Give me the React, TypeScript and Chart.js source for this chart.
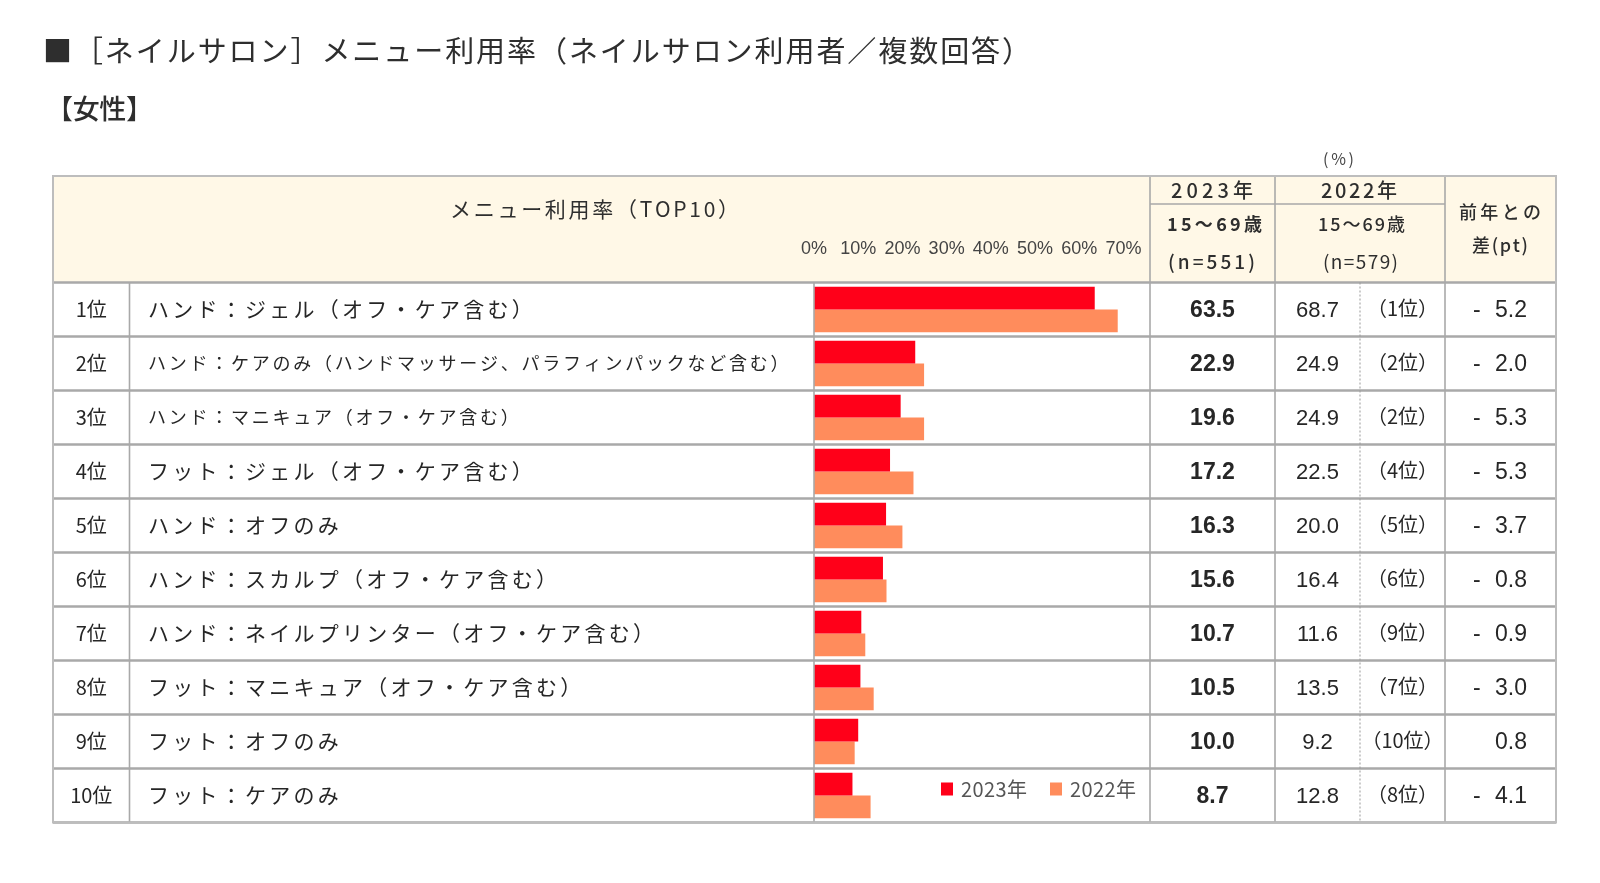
import { useEffect, useRef } from "react";
import { Chart, registerables } from "chart.js";

Chart.register(...registerables);

// ---------- data ----------
const titleText = "■［ネイルサロン］メニュー利用率（ネイルサロン利用者／複数回答）";
const subTitleText = "【女性】";
const headerMenu = "メニュー利用率（TOP10）";
const unitText = "(%)";
const seriesNames = ["2023年", "2022年"];
const ageLabels = ["15～69歳", "15～69歳"];
const sampleLabels = ["(n=551)", "(n=579)"];
const diffHeader = ["前年との", "差(pt)"];

const rankLabels = ["1位", "2位", "3位", "4位", "5位", "6位", "7位", "8位", "9位", "10位"];
const categories = [
  "ハンド：ジェル（オフ・ケア含む）",
  "ハンド：ケアのみ（ハンドマッサージ、パラフィンパックなど含む）",
  "ハンド：マニキュア（オフ・ケア含む）",
  "フット：ジェル（オフ・ケア含む）",
  "ハンド：オフのみ",
  "ハンド：スカルプ（オフ・ケア含む）",
  "ハンド：ネイルプリンター（オフ・ケア含む）",
  "フット：マニキュア（オフ・ケア含む）",
  "フット：オフのみ",
  "フット：ケアのみ",
];
const values2023 = [63.5, 22.9, 19.6, 17.2, 16.3, 15.6, 10.7, 10.5, 10.0, 8.7];
const values2022 = [68.7, 24.9, 24.9, 22.5, 20.0, 16.4, 11.6, 13.5, 9.2, 12.8];
const ranks2022 = ["（1位）", "（2位）", "（2位）", "（4位）", "（5位）", "（6位）", "（9位）", "（7位）", "（10位）", "（8位）"];
const diffs = [-5.2, -2.0, -5.3, -5.3, -3.7, -0.8, -0.9, -3.0, 0.8, -4.1];
const tickMaxLabel = 70;

// ---------- styles ----------
const RED = "#FF0019";
const ORANGE = "#FF8C5C";
const HEADER_BG = "#FFF8E7";
const LINE = "#A9A9A9";
const TEXT = "#262626";
const JP = '"Noto Sans CJK JP", "Noto Sans", sans-serif';
const LAT = '"Liberation Sans", Arial, sans-serif';
const smallRows = new Set([1, 2]);

type Align = "left" | "center" | "right";

function spaced(ctx: CanvasRenderingContext2D, text: string, x: number, y: number, spacing: number, align: Align) {
  const chars = Array.from(text);
  const widths = chars.map((c) => ctx.measureText(c).width);
  const total = widths.reduce((a, b) => a + b, 0) + spacing * (chars.length - 1);
  let cx = align === "left" ? x : align === "center" ? x - total / 2 : x - total;
  ctx.textAlign = "left";
  chars.forEach((c, i) => {
    ctx.fillText(c, cx, y);
    cx += widths[i] + spacing;
  });
}

function fit(ctx: CanvasRenderingContext2D, text: string, x0: number, x1: number, y: number) {
  const chars = Array.from(text);
  const widths = chars.map((c) => ctx.measureText(c).width);
  const sum = widths.reduce((a, b) => a + b, 0);
  const spacing = chars.length > 1 ? (x1 - x0 - sum) / (chars.length - 1) : 0;
  spaced(ctx, text, x0, y, spacing, "left");
}

const tablePlugin = {
  id: "tablePlugin",
  beforeDraw(chart: any) {
    const ctx: CanvasRenderingContext2D = chart.ctx;
    const area = chart.chartArea;
    ctx.save();
    ctx.fillStyle = "#ffffff";
    ctx.fillRect(0, 0, chart.width, chart.height);
    ctx.fillStyle = HEADER_BG;
    ctx.fillRect(53, 176, 1556 - 53, area.top - 176);
    ctx.restore();
  },
  afterDatasetsDraw(chart: any) {
    const ctx: CanvasRenderingContext2D = chart.ctx;
    const area = chart.chartArea;
    const xs = chart.scales.x;
    const ys = chart.scales.y;
    const L = 53, R = 1556, TOP = 176;
    const colRank = 129.5;
    const colBars = area.left;
    const col2023 = area.right;
    const col2022 = 1275;
    const colDot = 1360;
    const colDiff = 1445;
    const n = categories.length;
    const bound = (k: number) => ys.getPixelForValue(k - 0.5);

    ctx.save();
    ctx.textBaseline = "middle";
    ctx.fillStyle = "#2e2e2e";

    // title
    ctx.font = `400 29px ${JP}`;
    fit(ctx, titleText, 43, 1031, 51);
    ctx.font = `500 27px ${JP}`;
    fit(ctx, subTitleText, 46, 153, 109);

    // unit
    ctx.font = `400 16px ${JP}`;
    ctx.fillStyle = "#444";
    fit(ctx, unitText, 1323, 1354, 159);

    // header texts
    ctx.fillStyle = "#2e2e2e";
    ctx.font = `400 21px ${JP}`;
    fit(ctx, headerMenu, 450, 739, 209);
    ctx.font = `500 20px ${JP}`;
    fit(ctx, seriesNames[0], 1171, 1253, 190);
    fit(ctx, seriesNames[1], 1321, 1397, 190);
    ctx.font = `700 18px ${JP}`;
    fit(ctx, ageLabels[0], 1167, 1262, 224);
    ctx.font = `500 18px ${JP}`;
    fit(ctx, ageLabels[1], 1318, 1405, 224);
    ctx.font = `500 19px ${JP}`;
    fit(ctx, sampleLabels[0], 1168, 1255, 262);
    ctx.font = `400 19px ${JP}`;
    fit(ctx, sampleLabels[1], 1323, 1398, 262);
    ctx.font = `500 18px ${JP}`;
    fit(ctx, diffHeader[0], 1459, 1541, 212);
    fit(ctx, diffHeader[1], 1472, 1528, 245);

    // axis tick labels (from the x scale)
    ctx.font = `400 18px ${LAT}`;
    ctx.fillStyle = "#444";
    ctx.textAlign = "center";
    xs.ticks.forEach((t: any) => {
      if (t.value > tickMaxLabel) return;
      ctx.fillText(`${t.value}%`, xs.getPixelForValue(t.value), 249);
    });

    // rows
    for (let i = 0; i < n; i++) {
      const cy = ys.getPixelForValue(i);
      ctx.fillStyle = TEXT;
      ctx.font = `400 20px ${JP}`;
      spaced(ctx, rankLabels[i], (L + colRank) / 2, cy, 0, "center");
      if (smallRows.has(i)) {
        ctx.font = `400 18px ${JP}`;
        spaced(ctx, categories[i], 148, cy, 2.75, "left");
      } else {
        ctx.font = `400 21px ${JP}`;
        spaced(ctx, categories[i], 148, cy, 3.25, "left");
      }
      ctx.font = `700 23px ${LAT}`;
      ctx.textAlign = "center";
      ctx.fillText(values2023[i].toFixed(1), (col2023 + col2022) / 2, cy + 1);
      ctx.font = `400 22px ${LAT}`;
      ctx.fillText(values2022[i].toFixed(1), (col2022 + colDot) / 2, cy + 1);
      ctx.font = `400 20px ${JP}`;
      spaced(ctx, ranks2022[i], (colDot + colDiff) / 2, cy - 1, 0, "center");
      ctx.font = `400 23px ${LAT}`;
      const d = diffs[i];
      ctx.textAlign = "right";
      ctx.fillText(Math.abs(d).toFixed(1), 1527, cy + 1);
      if (d < 0) {
        ctx.textAlign = "left";
        ctx.fillText("-", 1473, cy + 1);
      }
    }

    // legend (from datasets)
    const legendX = [941, 1050];
    const legendY = bound(n - 1) + 21;
    chart.data.datasets.forEach((ds: any, k: number) => {
      ctx.fillStyle = ds.backgroundColor;
      ctx.fillRect(legendX[k], legendY - 7, 12, 13);
      ctx.fillStyle = "#555";
      ctx.font = `400 20px ${JP}`;
      fit(ctx, ds.label, legendX[k] + 20, legendX[k] + 86, legendY);
    });

    // lines
    ctx.strokeStyle = LINE;
    ctx.lineWidth = 2.5;
    for (let k = 0; k <= n; k++) {
      const y = bound(k);
      ctx.beginPath();
      ctx.moveTo(L, y);
      ctx.lineTo(R, y);
      ctx.stroke();
    }
    ctx.lineWidth = 1.6;
    const vline = (x: number, y0: number, y1: number) => {
      ctx.beginPath();
      ctx.moveTo(x, y0);
      ctx.lineTo(x, y1);
      ctx.stroke();
    };
    vline(colRank, area.top, area.bottom);
    vline(colBars, area.top, area.bottom);
    vline(col2023, TOP, area.bottom);
    vline(col2022, TOP, area.bottom);
    vline(colDiff, TOP, area.bottom);
    ctx.beginPath();
    ctx.moveTo(col2023, 204);
    ctx.lineTo(colDiff, 204);
    ctx.stroke();
    ctx.save();
    ctx.setLineDash([2, 2]);
    ctx.lineWidth = 1;
    ctx.strokeStyle = "#999";
    vline(colDot, area.top, area.bottom);
    ctx.restore();
    ctx.strokeStyle = "#BDBDBD";
    ctx.lineWidth = 2;
    ctx.strokeRect(L, TOP, R - L, area.bottom - TOP);
    ctx.restore();
  },
};

export default function App() {
  const ref = useRef<HTMLCanvasElement | null>(null);
  useEffect(() => {
    if (!ref.current) return;
    const chart = new Chart(ref.current, {
      type: "bar",
      data: {
        labels: categories,
        datasets: [
          { label: seriesNames[0], data: values2023, backgroundColor: RED, categoryPercentage: 0.84, barPercentage: 1, borderWidth: 0 },
          { label: seriesNames[1], data: values2022, backgroundColor: ORANGE, categoryPercentage: 0.84, barPercentage: 1, borderWidth: 0 },
        ],
      },
      options: {
        indexAxis: "y",
        responsive: false,
        animation: false,
        devicePixelRatio: 1,
        layout: { padding: { left: 814, right: 450, top: 282.5, bottom: 60.5 } },
        scales: {
          x: { display: false, min: 0, max: 76, ticks: { stepSize: 10 } },
          y: { display: false, offset: true },
        },
        plugins: { legend: { display: false }, tooltip: { enabled: false }, title: { display: false } },
      },
      plugins: [tablePlugin],
    });
    return () => chart.destroy();
  }, []);
  return (
    <div style={{ position: "absolute", left: 0, top: 0, width: 1600, height: 883 }}>
      <canvas ref={ref} width={1600} height={883} style={{ display: "block" }} />
    </div>
  );
}
